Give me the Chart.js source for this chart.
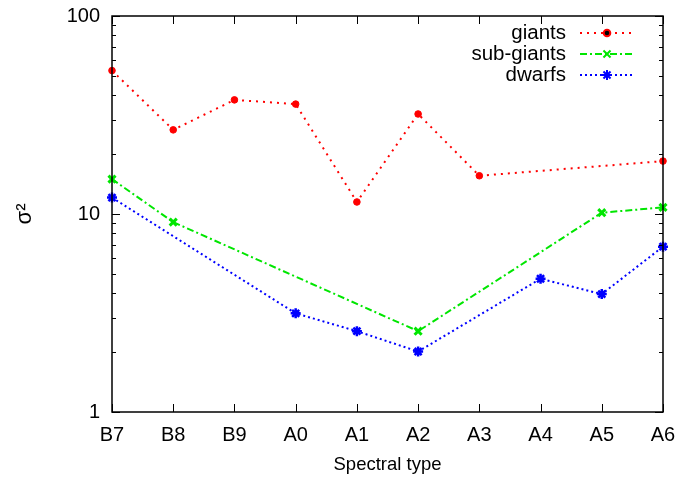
<!DOCTYPE html>
<html>
<head>
<meta charset="utf-8">
<script src="https://cdn.jsdelivr.net/npm/chart.js@4/dist/chart.umd.min.js"></script>
<style>
  html, body { margin: 0; padding: 0; background: #fff; }
  #wrap { width: 698px; height: 480px; }
</style>
</head>
<body>
<div id="wrap"><canvas id="chart" width="698" height="480"></canvas></div>
<script>
const spectralTypes = ["B7", "B8", "B9", "A0", "A1", "A2", "A3", "A4", "A5", "A6"];
const giants     = [53, 26.6, 37.7, 35.9, 11.5, 32, 15.6, null, null, 18.5];
const subGiants  = [15.0, 9.1, null, null, null, 2.56, null, null, 10.15, 10.8];
const dwarfs     = [12.1, null, null, 3.15, 2.56, 2.02, null, 4.71, 3.94, 6.84];
const yTickLabels = [1, 10, 100];

const FONT = "'Liberation Sans', Arial, Helvetica, sans-serif";

// gnuplot style frame, inward ticks and legend
const framePlugin = {
    id: "frame",
    afterDatasetsDraw(chart) {
        const ctx = chart.ctx;
        const a = chart.chartArea;
        const x = chart.scales.x;
        const y = chart.scales.y;
        ctx.save();
        ctx.strokeStyle = "#000";
        ctx.lineWidth = 1;
        ctx.setLineDash([]);
        ctx.beginPath();
        for (let i = 0; i < spectralTypes.length; i++) {
            const px = Math.round(x.getPixelForValue(i)) + 0.5;
            ctx.moveTo(px, a.bottom); ctx.lineTo(px, a.bottom - 8);
            ctx.moveTo(px, a.top); ctx.lineTo(px, a.top + 8);
        }
        for (let d = 1; d <= 100; d *= 10) {
            for (let m = 1; m < 10; m++) {
                const v = d * m;
                if (v > 100) break;
                const len = m === 1 ? 8 : 4;
                const py = Math.round(y.getPixelForValue(v)) + 0.5;
                ctx.moveTo(a.left, py); ctx.lineTo(a.left + len, py);
                ctx.moveTo(a.right, py); ctx.lineTo(a.right - len, py);
            }
        }
        ctx.stroke();
        ctx.lineWidth = 1.5;
        ctx.strokeRect(a.left, a.top, a.right - a.left, a.bottom - a.top);

        // legend
        ctx.font = "20.5px " + FONT;
        ctx.textAlign = "right";
        ctx.textBaseline = "middle";
        chart.data.datasets.forEach((ds, i) => {
            const ly = 33 + i * 21;
            ctx.fillStyle = "#000";
            ctx.fillText(ds.label, 566, ly);
            ctx.strokeStyle = ds.borderColor;
            ctx.lineWidth = ds.borderWidth;
            ctx.setLineDash(ds.borderDash);
            ctx.beginPath();
            ctx.moveTo(580, ly); ctx.lineTo(634, ly);
            ctx.stroke();
            ctx.setLineDash([]);
            Chart.helpers.drawPoint(ctx, {
                pointStyle: ds.pointStyle,
                radius: ds.pointRadius,
                borderWidth: ds.pointBorderWidth || 1
            }, 607, ly);
        });
        ctx.restore();
    }
};

function makeDataset(label, data, color, dash, style, radius, bw) {
    return {
        label: label,
        data: data,
        borderColor: color,
        backgroundColor: color,
        borderWidth: 2,
        borderDash: dash,
        pointStyle: style,
        pointRadius: radius,
        pointBorderWidth: bw,
        pointBackgroundColor: color,
        pointBorderColor: color,
        spanGaps: true,
        tension: 0
    };
}

new Chart(document.getElementById("chart").getContext("2d"), {
    type: "line",
    data: {
        labels: spectralTypes,
        datasets: [
            makeDataset("giants", giants, "#ff0000", [2, 5], "circle", 3.3, 1),
            makeDataset("sub-giants", subGiants, "#00e600", [7, 3, 2, 3], "crossRot", 5, 3),
            makeDataset("dwarfs", dwarfs, "#0000ff", [2, 3], "star", 5, 2.5)
        ]
    },
    options: {
        responsive: false,
        animation: false,
        layout: { padding: { left: 0, right: 35, top: 16, bottom: 0 } },
        plugins: {
            legend: { display: false },
            tooltip: { enabled: false }
        },
        scales: {
            x: {
                offset: false,
                grid: { display: false, drawTicks: false },
                border: { display: false },
                ticks: {
                    color: "#000",
                    font: { family: FONT, size: 20 },
                    padding: 11,
                    maxRotation: 0,
                    autoSkip: false
                },
                title: {
                    display: true,
                    text: "Spectral type",
                    color: "#000",
                    font: { family: FONT, size: 18.5 },
                    padding: { top: 4 }
                },
                afterFit(s) {
                    s.height = 68;
                    s.paddingLeft = 0;
                    s.paddingRight = 0;
                }
            },
            y: {
                type: "logarithmic",
                min: 1,
                max: 100,
                grid: { display: false, drawTicks: false },
                border: { display: false },
                ticks: {
                    color: "#000",
                    font: { family: FONT, size: 20 },
                    padding: 12,
                    autoSkip: false,
                    callback: v => yTickLabels.includes(v) ? String(v) : ""
                },
                title: {
                    display: true,
                    text: "σ²",
                    color: "#000",
                    font: { family: FONT, size: 22 },
                    padding: { top: 12, bottom: 4 }
                },
                afterFit(s) {
                    s.width = 112;
                    s.paddingTop = 0;
                    s.paddingBottom = 0;
                }
            }
        }
    },
    plugins: [framePlugin]
});
</script>
</body>
</html>
